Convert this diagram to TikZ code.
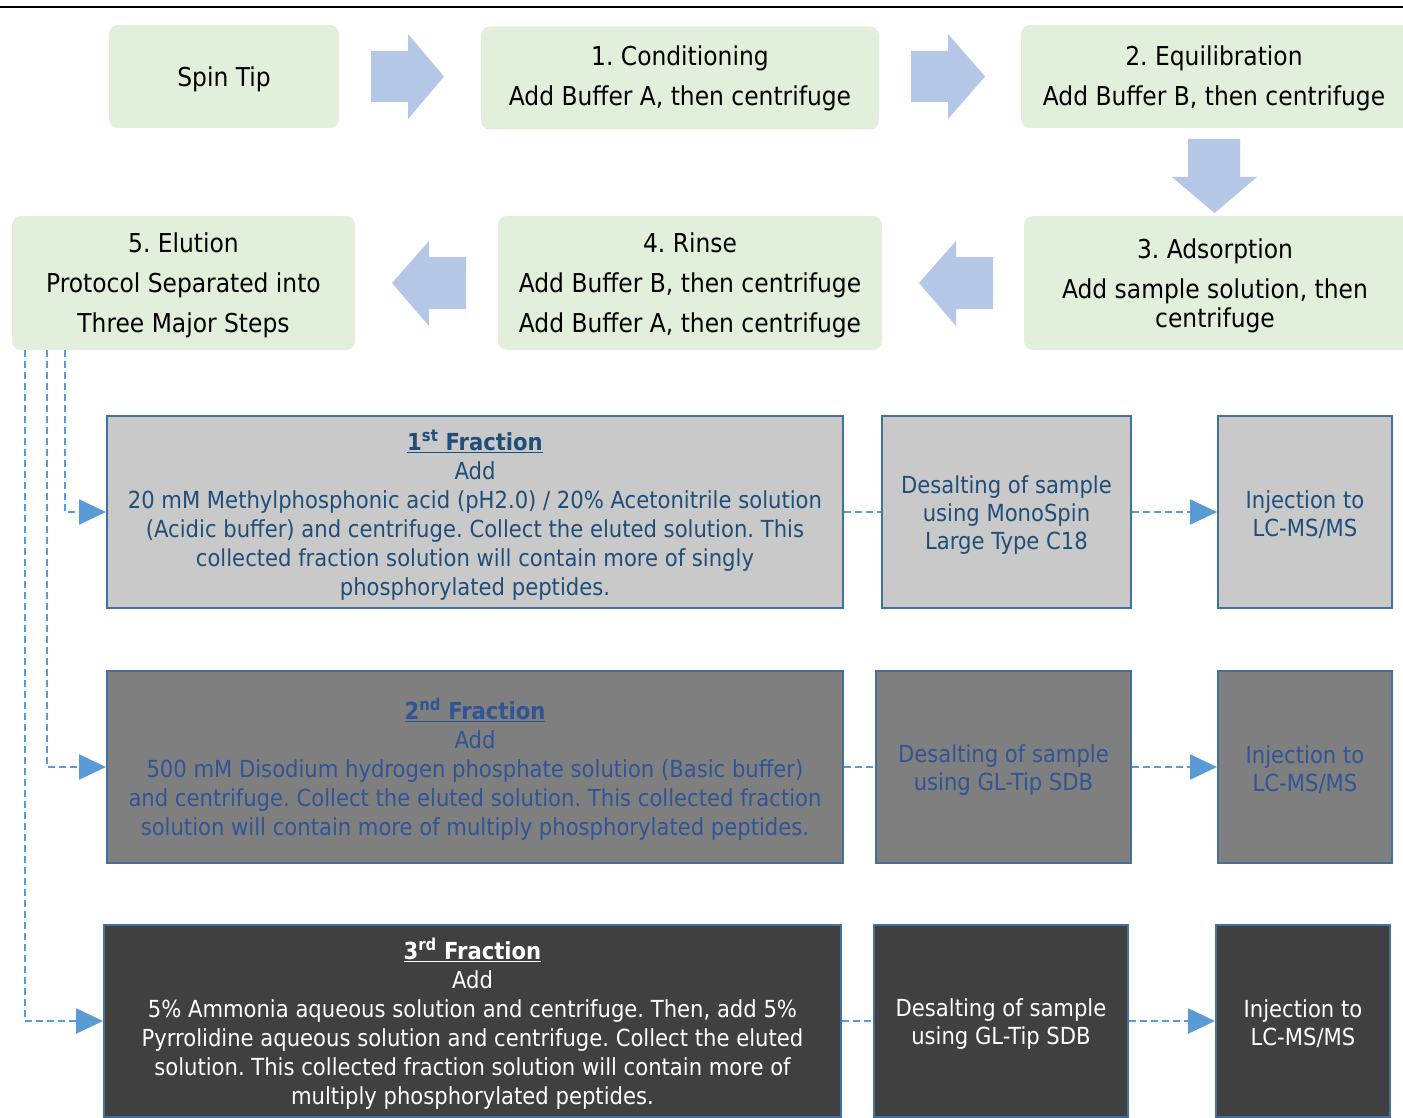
\documentclass[tikz,border=0pt]{standalone}
\usepackage{fontspec}
\setmainfont{DejaVu Sans Condensed}
\frenchspacing
\usetikzlibrary{arrows.meta}
\definecolor{boxgreen}{HTML}{E2EFDA}
\definecolor{blockarrow}{HTML}{B4C7E7}
\definecolor{frameblue}{HTML}{41719C}
\definecolor{dashblue}{HTML}{5B9BD5}
\definecolor{grayA}{HTML}{C9C9C9}
\definecolor{grayB}{HTML}{7F7F7F}
\definecolor{grayC}{HTML}{404040}
\definecolor{txtA}{HTML}{1F4E79}
\definecolor{txtB}{HTML}{2F5597}
\newcommand{\pushdown}[1]{\rule{0pt}{#1}}
\tikzset{
  bigfont/.style={font=\fontsize{26pt}{40pt}\selectfont},
  greenbox/.style={fill=boxgreen, rounded corners=9pt, align=center, inner sep=0pt, bigfont},
  fracbox/.style={draw=frameblue, line width=2pt, align=center, inner sep=0pt,
    font=\fontsize{23.5pt}{29pt}\selectfont},
  dashconn/.style={draw=dashblue, line width=2.3pt, dash pattern=on 7pt off 4pt},
  tipconn/.style={dashconn, -{Triangle[length=27pt,width=25pt]}},
  barrow/.style={fill=blockarrow},
}
\begin{document}
\begin{tikzpicture}[x=1pt,y=-1pt]
\useasboundingbox (0,0) rectangle (1403,1118);
\fill[white] (0,0) rectangle (1403,1118);
\draw[line width=1.8pt] (0,7) -- (1403,7);

% top row
\node[greenbox, minimum width=230pt, minimum height=103pt] (spin) at (224,76.5) {\pushdown{26pt}Spin Tip};
\node[greenbox, minimum width=398pt, minimum height=103pt] (cond) at (680,78) {1. Conditioning\\Add Buffer A, then centrifuge};
\node[greenbox, minimum width=400pt, minimum height=103pt] (equi) at (1221,76.5) {};
\node[bigfont, align=center, inner sep=0pt] (equit) at (1214,78) {2. Equilibration\\Add Buffer B, then centrifuge};
% second row
\node[greenbox, minimum width=400pt, minimum height=134pt] (adso) at (1224,283) {};
\node[bigfont, align=center, inner sep=0pt] (adsot) at (1215,286) {3. Adsorption\\Add sample solution, then\\[-11pt]centrifuge};
\node[greenbox, minimum width=384pt, minimum height=134pt] (rins) at (690,283) {\pushdown{24pt}4. Rinse\\Add Buffer B, then centrifuge\\Add Buffer A, then centrifuge};
\node[greenbox, minimum width=343pt, minimum height=134pt] (elu) at (183.5,283) {\pushdown{24pt}5. Elution\\Protocol Separated into\\Three Major Steps};

% block arrows
\fill[barrow] (371,51) -- (408,51) -- (408,34) -- (444,76.5) -- (408,119) -- (408,102) -- (371,102) -- cycle;
\fill[barrow] (911,51) -- (948,51) -- (948,34) -- (985,76.5) -- (948,119) -- (948,102) -- (911,102) -- cycle;
\fill[barrow] (1188,139) -- (1240,139) -- (1240,177) -- (1257,177) -- (1214.5,213) -- (1172,177) -- (1188,177) -- cycle;
\fill[barrow] (993,257) -- (956,257) -- (956,241) -- (919,283) -- (956,326) -- (956,309) -- (993,309) -- cycle;
\fill[barrow] (466,257) -- (429,257) -- (429,241) -- (392,283) -- (429,326) -- (429,309) -- (466,309) -- cycle;

% fraction rows
\node[fracbox, fill=grayA, text=txtA, minimum width=736pt, minimum height=192pt] (f1) at (475,512)
  {\pushdown{26pt}\textbf{\underline{1\textsuperscript{st} Fraction}}\\Add\\20 mM Methylphosphonic acid (pH2.0) / 20\% Acetonitrile solution\\(Acidic buffer) and centrifuge. Collect the eluted solution. This\\collected fraction solution will contain more of singly\\phosphorylated peptides.};
\node[fracbox, fill=grayA, text=txtA, minimum width=249pt, minimum height=192pt] (d1) at (1006.5,512)
  {\pushdown{23pt}Desalting of sample\\[-1pt]using MonoSpin\\[-1pt]Large Type C18};
\node[fracbox, fill=grayA, text=txtA, minimum width=174pt, minimum height=192pt] (i1) at (1305,512)
  {\pushdown{23pt}Injection to\\[-1pt]LC-MS/MS};

\node[fracbox, fill=grayB, text=txtB, minimum width=736pt, minimum height=192pt] (f2) at (475,767)
  {\pushdown{26pt}\textbf{\underline{2\textsuperscript{nd} Fraction}}\\Add\\500 mM Disodium hydrogen phosphate solution (Basic buffer)\\and centrifuge. Collect the eluted solution. This collected fraction\\solution will contain more of multiply phosphorylated peptides.};
\node[fracbox, fill=grayB, text=txtB, minimum width=255pt, minimum height=192pt] (d2) at (1003.5,767)
  {\pushdown{23pt}Desalting of sample\\[-1pt]using GL-Tip SDB};
\node[fracbox, fill=grayB, text=txtB, minimum width=174pt, minimum height=192pt] (i2) at (1305,767)
  {\pushdown{23pt}Injection to\\[-1pt]LC-MS/MS};

\node[fracbox, fill=grayC, text=white, minimum width=737pt, minimum height=192pt] (f3) at (472.5,1021)
  {\pushdown{26pt}\textbf{\underline{3\textsuperscript{rd} Fraction}}\\Add\\5\% Ammonia aqueous solution and centrifuge. Then, add 5\%\\Pyrrolidine aqueous solution and centrifuge. Collect the eluted\\solution. This collected fraction solution will contain more of\\multiply phosphorylated peptides.};
\node[fracbox, fill=grayC, text=white, minimum width=254pt, minimum height=192pt] (d3) at (1001,1021)
  {\pushdown{23pt}Desalting of sample\\[-1pt]using GL-Tip SDB};
\node[fracbox, fill=grayC, text=white, minimum width=174pt, minimum height=192pt] (i3) at (1303,1021)
  {\pushdown{23pt}Injection to\\[-1pt]LC-MS/MS};

% connectors
\draw[tipconn] ([xshift=53pt]elu.south west) |- (f1.west);
\draw[tipconn] ([xshift=35pt]elu.south west) |- (f2.west);
\draw[tipconn] ([xshift=13pt]elu.south west) |- (f3.west);
\draw[dashconn] (f1.east) -- (d1.west);
\draw[dashconn] (f2.east) -- (d2.west);
\draw[dashconn] (f3.east) -- (d3.west);
\draw[tipconn] (d1.east) -- (i1.west);
\draw[tipconn] (d2.east) -- (i2.west);
\draw[tipconn] (d3.east) -- (i3.west);
\end{tikzpicture}
\end{document}
